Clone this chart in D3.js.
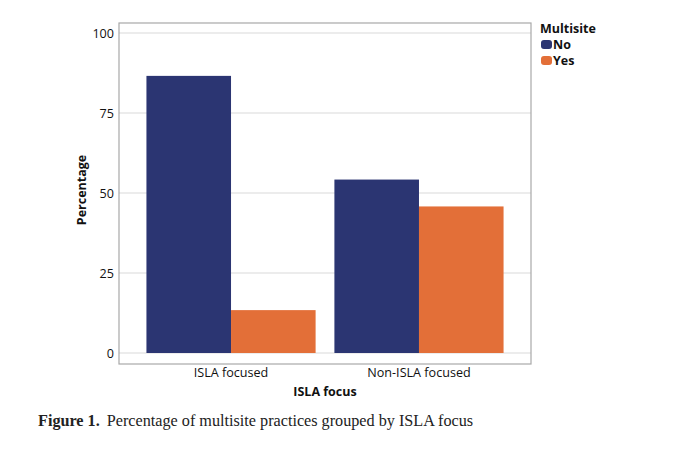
<!DOCTYPE html>
<html>
<head>
<meta charset="utf-8">
<script src="https://cdn.jsdelivr.net/npm/d3@7"></script>
<style>
  body { margin: 0; background: #fff; }
  .tick-label { font-family: "Open Sans", sans-serif; font-size: 12.6px; fill: #111; }
  .axis-title { font-family: "Open Sans", sans-serif; font-size: 12.5px; font-weight: bold; fill: #111; }
</style>
</head>
<body>
<div id="chart"></div>
<script>
const categories = ["ISLA focused", "Non-ISLA focused"];
const seriesNames = ["No", "Yes"];
const noValues = [86.6, 54.2];
const yesValues = [13.4, 45.8];
const yTicks = [0, 25, 50, 75, 100];
const colors = ["#2b3572", "#e36f38"];

const width = 680, height = 450;
const plot = { left: 119, top: 23, right: 531, bottom: 364 };

const data = categories.map((c, i) => ({ cat: c, values: [noValues[i], yesValues[i]] }));

const svg = d3.select("#chart")
    .append("svg")
    .attr("width", width)
    .attr("height", height);

const xScale = d3.scaleBand()
    .domain(categories)
    .range([plot.left, plot.right])
    .paddingInner(0.1)
    .paddingOuter(0.146);

const xSub = d3.scaleBand()
    .domain(seriesNames)
    .range([0, xScale.bandwidth()]);

const yScale = d3.scaleLinear()
    .domain([0, 100])
    .range([353, 33]);

// gridlines
svg.append("g")
    .selectAll("line")
    .data(yTicks)
    .join("line")
    .attr("x1", plot.left)
    .attr("x2", plot.right)
    .attr("y1", d => yScale(d))
    .attr("y2", d => yScale(d))
    .attr("stroke", "#d9d9d9")
    .attr("stroke-width", 1);

// bars
const groups = svg.append("g")
    .selectAll("g")
    .data(data)
    .join("g")
    .attr("transform", d => `translate(${xScale(d.cat)},0)`);

groups.selectAll("rect")
    .data(d => d.values.map((v, i) => ({ key: seriesNames[i], v, i })))
    .join("rect")
    .attr("x", d => xSub(d.key))
    .attr("y", d => yScale(d.v))
    .attr("width", xSub.bandwidth())
    .attr("height", d => yScale(0) - yScale(d.v))
    .attr("fill", d => colors[d.i]);

// frame
svg.append("rect")
    .attr("x", plot.left)
    .attr("y", plot.top)
    .attr("width", plot.right - plot.left)
    .attr("height", plot.bottom - plot.top)
    .attr("fill", "none")
    .attr("stroke", "#a8a8a8")
    .attr("stroke-width", 1.2);

// y axis labels
const leftAxis = d3.axisLeft(yScale).tickValues(yTicks).tickSize(0).tickPadding(5);
const yAxisG = svg.append("g")
    .attr("transform", `translate(${plot.left},0)`)
    .call(leftAxis);
yAxisG.select(".domain").remove();
yAxisG.selectAll("text").attr("class", "tick-label");

// x axis labels
const bottomAxis = d3.axisBottom(xScale).tickSize(0).tickPadding(4);
const xAxisG = svg.append("g")
    .attr("transform", `translate(0,${plot.bottom})`)
    .call(bottomAxis);
xAxisG.select(".domain").remove();
xAxisG.selectAll("text").attr("class", "tick-label");

// axis titles
svg.append("text")
    .text("ISLA focus")
    .attr("x", 325)
    .attr("y", 396)
    .attr("text-anchor", "middle")
    .attr("class", "axis-title");

svg.append("text")
    .text("Percentage")
    .attr("transform", "translate(86,190) rotate(-90)")
    .attr("text-anchor", "middle")
    .attr("class", "axis-title");

// legend
const legend = svg.append("g").attr("transform", "translate(540,0)");
legend.append("text")
    .text("Multisite")
    .attr("x", 0)
    .attr("y", 33)
    .attr("class", "axis-title");
legend.selectAll("rect")
    .data(seriesNames)
    .join("rect")
    .attr("x", 1)
    .attr("y", (d, i) => 40 + i * 16)
    .attr("width", 11)
    .attr("height", 9)
    .attr("rx", 3)
    .attr("fill", (d, i) => colors[i]);
legend.selectAll("text.item")
    .data(seriesNames)
    .join("text")
    .attr("class", "item axis-title")
    .attr("x", 13)
    .attr("y", (d, i) => 49 + i * 16)
    .text(d => d);

// caption
const cap = svg.append("text")
    .attr("x", 38)
    .attr("y", 426)
    .style("font-family", "'Liberation Serif', serif")
    .style("font-size", "16.2px")
    .attr("fill", "#222");
cap.append("tspan").style("font-weight", "bold").text("Figure 1.");
cap.append("tspan").attr("dx", 7).text("Percentage of multisite practices grouped by ISLA focus");
</script>
</body>
</html>
